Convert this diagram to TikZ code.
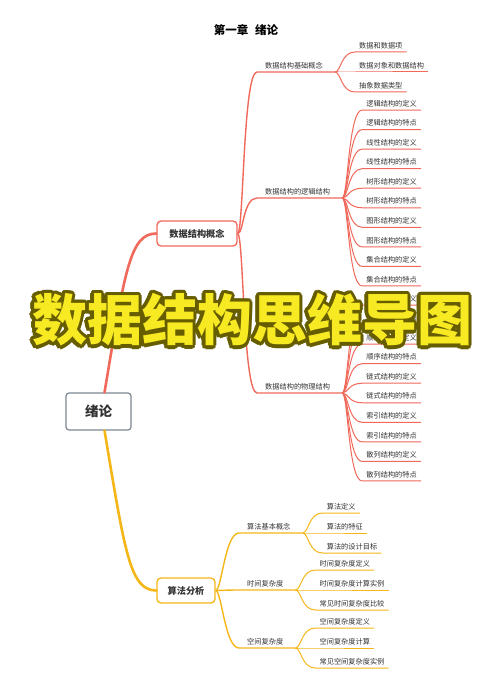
\documentclass[tikz,border=0pt]{standalone}
\usepackage{fontspec}
\setmainfont{Noto Sans CJK SC}
\usetikzlibrary{calc}
\definecolor{mapRed}{HTML}{F0695B}
\definecolor{mapAmber}{HTML}{F5B618}
\definecolor{mapGray}{HTML}{7D8793}
\definecolor{mapInk}{HTML}{333333}
\definecolor{capYellow}{HTML}{F8EA22}
\definecolor{capOlive}{HTML}{665C00}

\begin{document}
\begin{tikzpicture}[x=1pt, y=-1pt,
  root/.style={draw=mapGray, line width=1.2pt, rounded corners=3pt, fill=white, minimum width=65pt, minimum height=37pt, font=\fontsize{13.5}{15}\selectfont\bfseries, text=mapInk},
  topic/.style={draw=#1, line width=1.3pt, rounded corners=4pt, fill=white, minimum height=25pt, font=\fontsize{9.2}{11}\selectfont\bfseries, text=mapInk},
  sub/.style={anchor=south west, inner xsep=8pt, inner ysep=3pt, font=\fontsize{7.2}{8}\selectfont, text=mapInk},
  leaf/.style={anchor=south west, inner xsep=4pt, inner ysep=3pt, font=\fontsize{7.2}{8}\selectfont, text=mapInk},
  caption/.style={font=\fontsize{55}{57}\selectfont\bfseries, inner sep=0pt},
  trunk/.style={line width=2.6pt, line cap=round},
  bough/.style={line width=1.4pt},
  twig/.style={line width=1.0pt}
]
\fill[white] (0,0) rectangle (500,676);
\useasboundingbox (0,0) rectangle (500,676);

\node[font=\fontsize{11.5}{13}\selectfont\bfseries] (title) at (246,30) {第一章\hspace{7pt}绪论};

% root and the two main topics
\node[root] (xl) at (98.5,411.5) {绪论};
\node[topic=mapRed, minimum width=80pt] (ds) at (197,233.5) {数据结构概念};
\node[topic=mapAmber, minimum width=58pt] (sf) at (186,590.5) {算法分析};
\draw[trunk, mapRed] ($(xl.north)+(6,0)$) .. controls (125,270) and (130,233.5) .. (ds.west);
\draw[trunk, mapAmber] ($(xl.south)+(6,0)$) .. controls (125,553) and (130,590.5) .. (sf.west);

% data structure concepts
\foreach \t/\y/\n in {数据结构基础概念/72/ba, 数据结构的逻辑结构/198/lg, 数据结构的物理结构/393/ph} {
  \node[sub] (\n) at (257,\y) {\t};
  \coordinate (j\n) at ($(\n.south east)+(4,0)$);
  \draw[bough, mapRed] (ds.east) .. controls ($(ds.east)+(6,0)$) and ($(\n.south west)+(-14,0)$) .. (\n.south west) -- (j\n);
}
\foreach \t [count=\i from 0] in {数据和数据项, 数据对象和数据结构, 抽象数据类型} {
  \node[leaf] (ba\i) at ($(jba)+(20,{(\i-1)*20})$) {\t};
  \draw[twig, mapRed] (jba) .. controls ($(jba)+(6,0)$) and ($(ba\i.south west)+(-14,0)$) .. (ba\i.south west) -- (ba\i.south east);
}
\foreach \t [count=\i from 0] in {逻辑结构的定义, 逻辑结构的特点, 线性结构的定义, 线性结构的特点, 树形结构的定义, 树形结构的特点, 图形结构的定义, 图形结构的特点, 集合结构的定义, 集合结构的特点} {
  \node[leaf] (lg\i) at ($(jlg)+(20,{(\i-4.5)*19.55})$) {\t};
  \draw[twig, mapRed] (jlg) .. controls ($(jlg)+(6,0)$) and ($(lg\i.south west)+(-14,0)$) .. (lg\i.south west) -- (lg\i.south east);
}
\foreach \t [count=\i from 0] in {物理结构的定义, 物理结构的特点, 顺序结构的定义, 顺序结构的特点, 链式结构的定义, 链式结构的特点, 索引结构的定义, 索引结构的特点, 散列结构的定义, 散列结构的特点} {
  \node[leaf] (ph\i) at ($(jph)+(20,{(\i-4.5)*19.55})$) {\t};
  \draw[twig, mapRed] (jph) .. controls ($(jph)+(6,0)$) and ($(ph\i.south west)+(-14,0)$) .. (ph\i.south west) -- (ph\i.south east);
}

% algorithm analysis
\foreach \t/\y/\n in {算法基本概念/533/jb, 时间复杂度/590/sj, 空间复杂度/648/kj} {
  \node[sub] (\n) at (239,\y) {\t};
  \coordinate (j\n) at ($(\n.south east)+(4,0)$);
  \draw[bough, mapAmber] (sf.east) .. controls ($(sf.east)+(6,0)$) and ($(\n.south west)+(-14,0)$) .. (\n.south west) -- (j\n);
}
\foreach \n/\list in {jb/{算法定义, 算法的特征, 算法的设计目标}, sj/{时间复杂度定义, 时间复杂度计算实例, 常见时间复杂度比较}, kj/{空间复杂度定义, 空间复杂度计算, 常见空间复杂度实例}} {
  \foreach \t [count=\i from 0] in \list {
    \node[leaf] (\n\i) at ($(j\n)+(20,{(\i-1)*20})$) {\t};
    \draw[twig, mapAmber] (j\n) .. controls ($(j\n)+(6,0)$) and ($(\n\i.south west)+(-14,0)$) .. (\n\i.south west) -- (\n\i.south east);
  }
}

% big caption on top
\coordinate (cap) at (252,320);
\foreach \a [count=\k] in {0,22.5,...,337.5}
  \node[caption, text=capOlive] (rim\k) at ($(cap)+(\a:3.2)$) {数据结构思维导图};
\node[caption, text=capYellow] (capt) at (cap) {数据结构思维导图};
\end{tikzpicture}
\end{document}
